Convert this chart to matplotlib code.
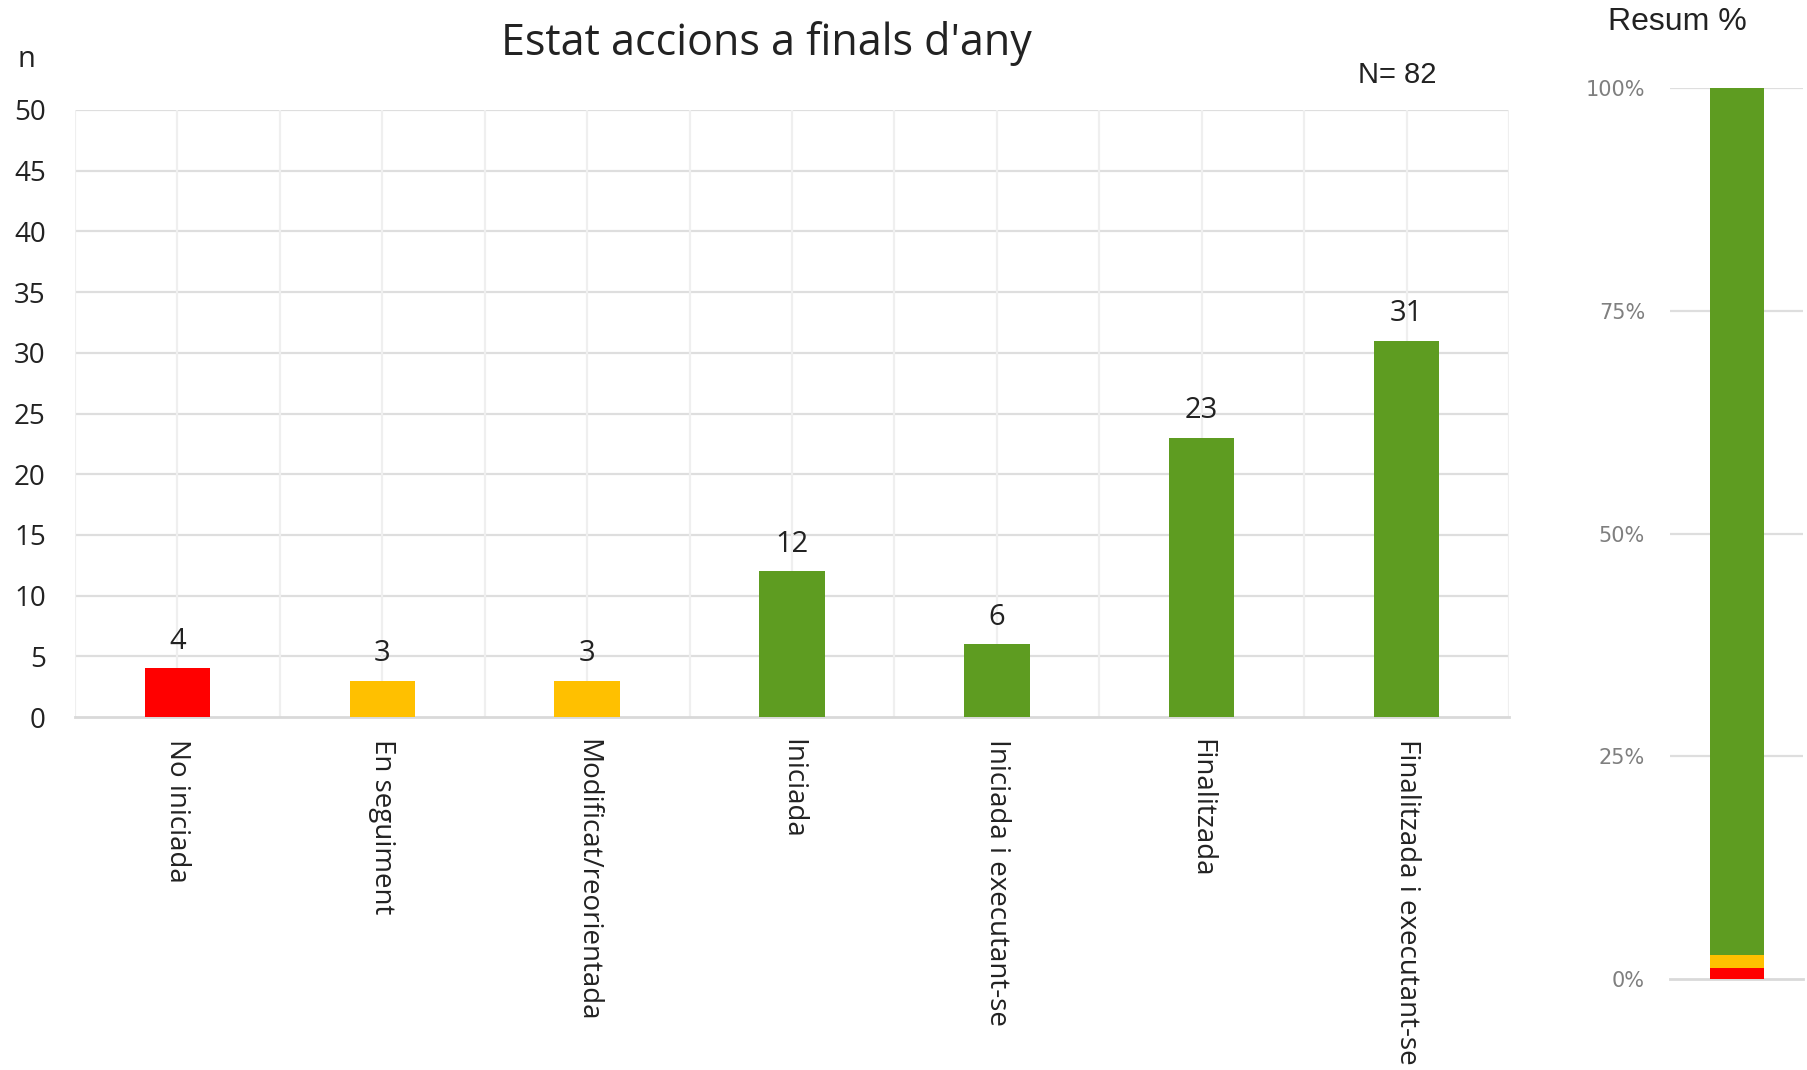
import numpy as np
import matplotlib
matplotlib.use("Agg")
import matplotlib.pyplot as plt

# data
categories = ["No iniciada", "En seguiment", "Modificat/reorientada", "Iniciada",
              "Iniciada i executant-se", "Finalitzada", "Finalitzada i executant-se"]
counts = [4, 3, 3, 12, 6, 23, 31]
bar_colors = ["#FF0000", "#FFC000", "#FFC000", "#5E9C21", "#5E9C21", "#5E9C21", "#5E9C21"]

summary_labels = ["vermell", "groc", "verd"]
summary_pct = [1.2, 1.5, 97.3]
summary_colors = ["#FF0000", "#FFC000", "#5E9C21"]

total_n = 82

plt.rcParams['font.family'] = ['Open Sans', 'DejaVu Sans']
text_color = "#222222"

fig = plt.figure(figsize=(18.08, 10.70), dpi=100)

# main bar chart
ax = fig.add_axes([0.0415, 0.3299, 0.7931, 0.5673])
x = np.arange(len(categories))
bars = ax.bar(x, counts, width=0.32, color=bar_colors, zorder=3)
ax.set_xlim(-0.5, len(categories) - 0.5)
ax.set_ylim(0, 50)
ax.set_yticks(np.arange(0, 51, 5))
ax.set_xticks(x)
ax.set_xticklabels(categories, rotation=270, ha="center", va="top",
                   fontsize=20, color=text_color)
ax.tick_params(axis="x", length=0, pad=16)
ax.tick_params(axis="y", length=0, pad=21, labelsize=20, labelcolor=text_color)

# grid: horizontal every 5, vertical at centres and boundaries
for yv in np.arange(5, 51, 5):
    ax.axhline(yv, color="#dedede", lw=1.6, zorder=1)
for xv in np.arange(-0.5, len(categories), 0.5):
    ax.axvline(xv, color="#efefef", lw=1.6, zorder=1)
for s in ["top", "right", "left"]:
    ax.spines[s].set_visible(False)
ax.spines["bottom"].set_color("#d9d9d9")
ax.spines["bottom"].set_linewidth(2)

for xi, v in zip(x, counts):
    ax.annotate(str(v), (xi, v), xytext=(0, 9), textcoords="offset points",
                ha="center", va="bottom", fontsize=21, color=text_color)

fig.text(0.424, 0.959, "Estat accions a finals d'any", ha="center", va="center",
         fontsize=31, color=text_color)
fig.text(0.0144, 0.944, "n", ha="center", va="center", fontsize=21, color=text_color)
fig.text(0.773, 0.93, "N= %d" % total_n, ha="center", va="center", fontsize=21,
         color=text_color, family=["Liberation Sans", "DejaVu Sans"])

# summary stacked bar
ax2 = fig.add_axes([0.9237, 0.085, 0.0736, 0.8327])
bottom = 0
for lab, p, c in zip(summary_labels, summary_pct, summary_colors):
    ax2.bar(0, p, bottom=bottom, width=0.406, color=c, zorder=3)
    bottom += p
ax2.set_xlim(-0.5, 0.5)
ax2.set_ylim(0, 100)
ax2.set_yticks([0, 25, 50, 75, 100])
ax2.set_yticklabels(["0%", "25%", "50%", "75%", "100%"])
ax2.set_xticks([])
ax2.tick_params(axis="y", length=0, pad=18, labelsize=15, labelcolor="#7f7f7f")
for lab in ax2.get_yticklabels():
    lab.set_family(["DejaVu Sans"])
for yv in [25, 50, 75, 100]:
    ax2.axhline(yv, color="#dedede", lw=1.6, zorder=1)
for s in ["top", "right", "left"]:
    ax2.spines[s].set_visible(False)
ax2.spines["bottom"].set_color("#d9d9d9")
ax2.spines["bottom"].set_linewidth(2)

fig.text(0.928, 0.979, "Resum %", ha="center", va="center", fontsize=23,
         color=text_color, family=["Liberation Sans", "DejaVu Sans"])

fig.savefig("out.png", dpi=100, facecolor="white")
